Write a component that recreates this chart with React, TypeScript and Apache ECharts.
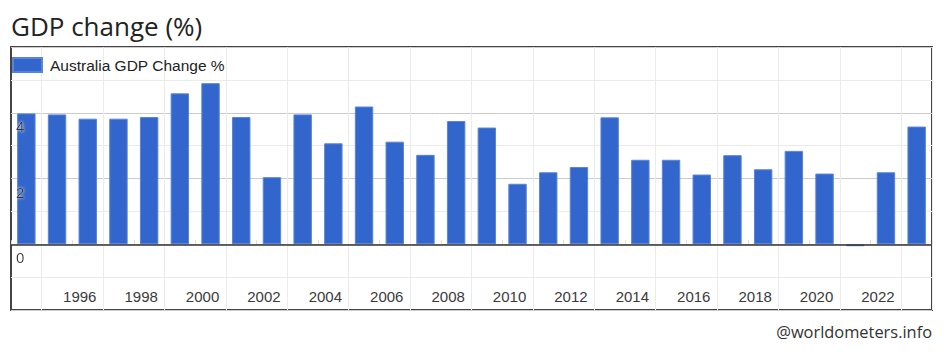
import React, { useEffect, useRef } from "react";
import * as echarts from "echarts";

const years = [
  "1994", "1995", "1996", "1997", "1998", "1999", "2000", "2001", "2002", "2003",
  "2004", "2005", "2006", "2007", "2008", "2009", "2010", "2011", "2012", "2013",
  "2014", "2015", "2016", "2017", "2018", "2019", "2020", "2021", "2022", "2023",
];
const gdpChange = [
  3.98, 3.95, 3.82, 3.82, 3.87, 4.59, 4.9, 3.87, 2.04, 3.95,
  3.07, 4.19, 3.12, 2.72, 3.75, 3.55, 1.84, 2.19, 2.35, 3.86,
  2.57, 2.57, 2.12, 2.71, 2.28, 2.84, 2.15, -0.06, 2.19, 3.58,
];
const yLabelValues = [0, 2, 4];
const seriesName = "Australia GDP Change %";
const titleText = "GDP change (%)";
const sourceText = "@worldometers.info";

export default function App() {
  const ref = useRef<HTMLDivElement>(null);
  useEffect(() => {
    document.body.style.margin = "0";
    const chart = echarts.init(ref.current!, null, { renderer: "svg" });
    const yBase = { type: "value", min: -2, max: 6, interval: 2, position: "left" };
    chart.setOption({
      animation: false,
      backgroundColor: "#fff",
      title: {
        text: titleText,
        left: 6,
        top: 8,
        textStyle: { fontFamily: "Open Sans", fontSize: 26, fontWeight: "normal", color: "#222" },
      },
      legend: {
        left: 12,
        top: 57,
        padding: 0,
        itemWidth: 29,
        itemHeight: 14,
        icon: "rect",
        textStyle: { fontFamily: "Liberation Sans", fontSize: 15.5, color: "#222", padding: [0, 0, 0, 3] },
        data: [seriesName],
      },
      grid: {
        left: 11,
        right: 15,
        top: 47,
        bottom: 50,
        show: true,
        borderColor: "#444",
        borderWidth: 2,
        backgroundColor: "#fff",
      },
      graphic: [
        {
          type: "text",
          right: 15,
          top: 323,
          style: { text: sourceText, fontFamily: "Open Sans", fontSize: 16.4, fill: "#333" },
        },
      ],
      xAxis: {
        type: "category",
        data: years,
        boundaryGap: true,
        axisLine: { show: false },
        axisTick: {
          show: true,
          inside: true,
          length: 4,
          interval: (idx: number) => idx % 2 === 0,
          lineStyle: { color: "#ddd" },
        },
        splitLine: {
          show: true,
          interval: (idx: number) => idx % 2 === 1,
          lineStyle: { color: "#ebebeb", width: 1 },
        },
        axisLabel: {
          inside: true,
          margin: 6,
          interval: (idx: number) => idx % 2 === 0 && idx > 0,
          fontFamily: "Liberation Sans",
          fontSize: 15,
          color: "#3a3a3a",
          padding: [0, 16, 0, 0],
        },
      },
      yAxis: [
        {
          ...yBase,
          axisLine: { show: false },
          axisTick: { show: false },
          axisLabel: { show: false },
          minorTick: { show: false, splitNumber: 2 },
          minorSplitLine: { show: true, lineStyle: { color: "#ebebeb", width: 1 } },
          splitLine: { show: true, lineStyle: { color: "#cccccc", width: 1 } },
        },
        {
          ...yBase,
          z: 10,
          axisLine: { show: false },
          axisTick: { show: false },
          splitLine: { show: false },
          axisLabel: {
            inside: true,
            margin: 5,
            verticalAlign: "top",
            padding: [6, 0, 0, 0],
            fontFamily: "Liberation Sans",
            fontSize: 15,
            color: "#333",
            textShadowColor: "#fff",
            textShadowBlur: 3,
            formatter: (v: number) => (yLabelValues.includes(v) ? String(v) : ""),
          },
        },
      ],
      series: [
        {
          name: seriesName,
          type: "bar",
          yAxisIndex: 0,
          data: gdpChange,
          barCategoryGap: "40%",
          itemStyle: { color: "#3366cc", borderColor: "#5a84d8", borderWidth: 1 },
          z: 2,
          markLine: {
            silent: true,
            symbol: "none",
            label: { show: false },
            lineStyle: { color: "#333", width: 1.5, type: "solid" },
            data: [{ yAxis: 0 }],
          },
        },
      ],
    });
    return () => chart.dispose();
  }, []);
  return <div ref={ref} style={{ width: 947, height: 360 }} />;
}
